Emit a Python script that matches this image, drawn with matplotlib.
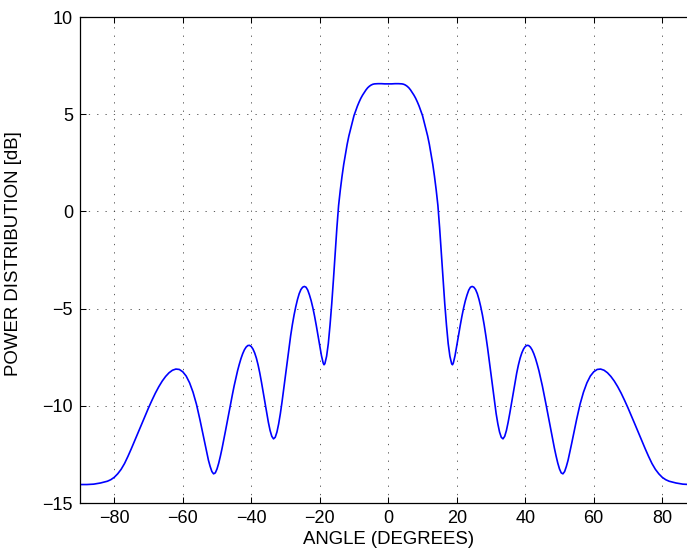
import matplotlib
matplotlib.use("Agg")
import matplotlib.pyplot as plt

# angle samples (degrees) and power readings (dB)
angle_left = [-90, -88, -86, -84, -82, -81, -80, -79, -78, -77, -76, -75, -74, -73, -72,
              -71, -70, -69, -68, -67, -66, -65, -64, -63, -62, -61, -60, -59, -58, -57,
              -56, -55.5, -55, -54.5, -54, -53.5, -53, -52.5, -52, -51.5, -51, -50.5, -50,
              -49.5, -49, -48.5, -48, -47.5, -47, -46.5, -46, -45.5, -45, -44.5, -44,
              -43.5, -43, -42.5, -42, -41.5, -41, -40.5, -40, -39.5, -39, -38.5, -38,
              -37.5, -37, -36.5, -36, -35.5, -35, -34.5, -34, -33.5, -33, -32.5, -32,
              -31.5, -31, -30.5, -30, -29.5, -29, -28.5, -28, -27.5, -27, -26.5, -26,
              -25.5, -25, -24.5, -24, -23.5, -23, -22.5, -22, -21.5, -21, -20.5, -20,
              -19.5, -19, -18.75, -18.5, -18, -17.5, -17, -16.5, -16, -15.5, -15, -14.5,
              -14, -13.5, -13, -12.5, -12, -11.5, -11, -10.5, -10, -9.5, -9, -8.5, -8,
              -7.5, -7, -6.5, -6, -5.5, -5, -4.5, -4, -3, -2, -1, 0]
power_left = [-14.05, -14.05, -14.03, -13.97, -13.88, -13.80, -13.68, -13.50, -13.27, -12.97,
              -12.60, -12.20, -11.78, -11.36, -10.94, -10.52, -10.11, -9.72, -9.35, -9.02,
              -8.73, -8.49, -8.30, -8.17, -8.11, -8.13, -8.25, -8.47, -8.82, -9.30,
              -9.92, -10.30, -10.70, -11.12, -11.55, -11.98, -12.40, -12.80, -13.12, -13.38,
              -13.50, -13.45, -13.25, -12.95, -12.58, -12.17, -11.73, -11.27, -10.80, -10.33,
              -9.87, -9.42, -8.98, -8.58, -8.20, -7.87, -7.57, -7.32, -7.12, -6.98,
              -6.90, -6.89, -6.95, -7.08, -7.28, -7.55, -7.90, -8.32, -8.80, -9.32,
              -9.85, -10.37, -10.85, -11.27, -11.57, -11.70, -11.62, -11.35, -10.93, -10.40,
              -9.78, -9.10, -8.40, -7.70, -7.02, -6.40, -5.83, -5.33, -4.90, -4.53,
              -4.23, -4.02, -3.90, -3.86, -3.90, -4.05, -4.30, -4.60, -4.97, -5.40,
              -5.88, -6.40, -6.92, -7.42, -7.80, -7.89, -7.83, -7.45, -6.80, -5.85,
              -4.75, -3.50, -2.15, -0.85, 0.30, 1.10, 1.80, 2.42, 2.95, 3.45,
              3.88, 4.24, 4.58, 4.93, 5.18, 5.42, 5.63, 5.82, 5.98, 6.12,
              6.25, 6.36, 6.44, 6.50, 6.54, 6.56, 6.57, 6.57, 6.56, 6.56]
angle_right = [1, 2, 3, 4, 4.5, 5, 5.5, 6, 6.5, 7, 7.5, 8, 8.5, 9, 9.5, 10, 10.5, 11, 11.5,
               12, 12.5, 13, 13.5, 14, 14.5, 15, 15.5, 16, 16.5, 17, 17.5, 18, 18.5, 18.75,
               19, 19.5, 20, 20.5, 21, 21.5, 22, 22.5, 23, 23.5, 24, 24.5, 25, 25.5, 26,
               26.5, 27, 27.5, 28, 28.5, 29, 29.5, 30, 30.5, 31, 31.5, 32, 32.5, 33, 33.5,
               34, 34.5, 35, 35.5, 36, 36.5, 37, 37.5, 38, 38.5, 39, 39.5, 40, 40.5, 41,
               41.5, 42, 42.5, 43, 43.5, 44, 44.5, 45, 45.5, 46, 46.5, 47, 47.5, 48, 48.5,
               49, 49.5, 50, 50.5, 51, 51.5, 52, 52.5, 53, 53.5, 54, 54.5, 55, 55.5, 56,
               57, 58, 59, 60, 61, 62, 63, 64, 65, 66, 67, 68, 69, 70, 71, 72, 73, 74, 75,
               76, 77, 78, 79, 80, 81, 82, 84, 86, 88, 90]
power_right = [6.56, 6.57, 6.57, 6.56, 6.54, 6.50, 6.44, 6.36, 6.25, 6.12, 5.98, 5.82, 5.63,
               5.42, 5.18, 4.93, 4.58, 4.24, 3.88, 3.45, 2.95, 2.42, 1.80, 1.10, 0.30,
               -0.85, -2.15, -3.50, -4.75, -5.85, -6.80, -7.45, -7.83, -7.89,
               -7.80, -7.42, -6.92, -6.40, -5.88, -5.40, -4.97, -4.60, -4.30, -4.05, -3.90,
               -3.86, -3.90, -4.02, -4.23, -4.53, -4.90, -5.33, -5.83, -6.40, -7.02,
               -7.70, -8.40, -9.10, -9.78, -10.40, -10.93, -11.35, -11.62, -11.70,
               -11.57, -11.27, -10.85, -10.37, -9.85, -9.32, -8.80, -8.32, -7.90, -7.55,
               -7.28, -7.08, -6.95, -6.89, -6.90, -6.98, -7.12, -7.32, -7.57, -7.87,
               -8.20, -8.58, -8.98, -9.42, -9.87, -10.33, -10.80, -11.27, -11.73, -12.17,
               -12.58, -12.95, -13.25, -13.45, -13.50, -13.38, -13.12, -12.80, -12.40,
               -11.98, -11.55, -11.12, -10.70, -10.30, -9.92,
               -9.30, -8.82, -8.47, -8.25, -8.13, -8.11, -8.17, -8.30, -8.49, -8.73,
               -9.02, -9.35, -9.72, -10.11, -10.52, -10.94, -11.36, -11.78, -12.20,
               -12.60, -12.97, -13.27, -13.50, -13.68, -13.80, -13.88, -13.97, -14.03,
               -14.05, -14.05]

angles = angle_left + angle_right
power = power_left + power_right

xticks = [-80, -60, -40, -20, 0, 20, 40, 60, 80]
yticks = [-15, -10, -5, 0, 5, 10]

plt.rcParams["font.family"] = ["Liberation Sans", "DejaVu Sans"]

fig = plt.figure(figsize=(6.87, 5.57), dpi=100)
ax = fig.add_axes([80 / 687, 54 / 557, 616.5 / 687, 486 / 557])

ax.plot(angles, power, color=(0, 0, 1), linewidth=1.2)

ax.set_xlim(-90, 90)
ax.set_ylim(-15, 10)
ax.set_xticks(xticks)
ax.set_yticks(yticks)
ax.set_xticklabels([str(t).replace("-", "\u2212") for t in xticks])
ax.set_yticklabels([str(t).replace("-", "\u2212") for t in yticks])

ax.grid(True, color="0.25", linewidth=0.6, linestyle=(0, (1.5, 8.5)))
ax.tick_params(direction="in", length=4, width=0.75, top=True, right=True,
               labelsize=13, pad=5)
for sp in ax.spines.values():
    sp.set_linewidth(0.9)

ax.set_xlabel("ANGLE (DEGREES)", fontsize=13.4)
ax.set_ylabel("POWER DISTRIBUTION [dB]", fontsize=13.4)
ax.xaxis.set_label_coords(0.5, -0.057)
ax.yaxis.set_label_coords(-0.094, 0.514)

fig.savefig("out.png", dpi=100)
